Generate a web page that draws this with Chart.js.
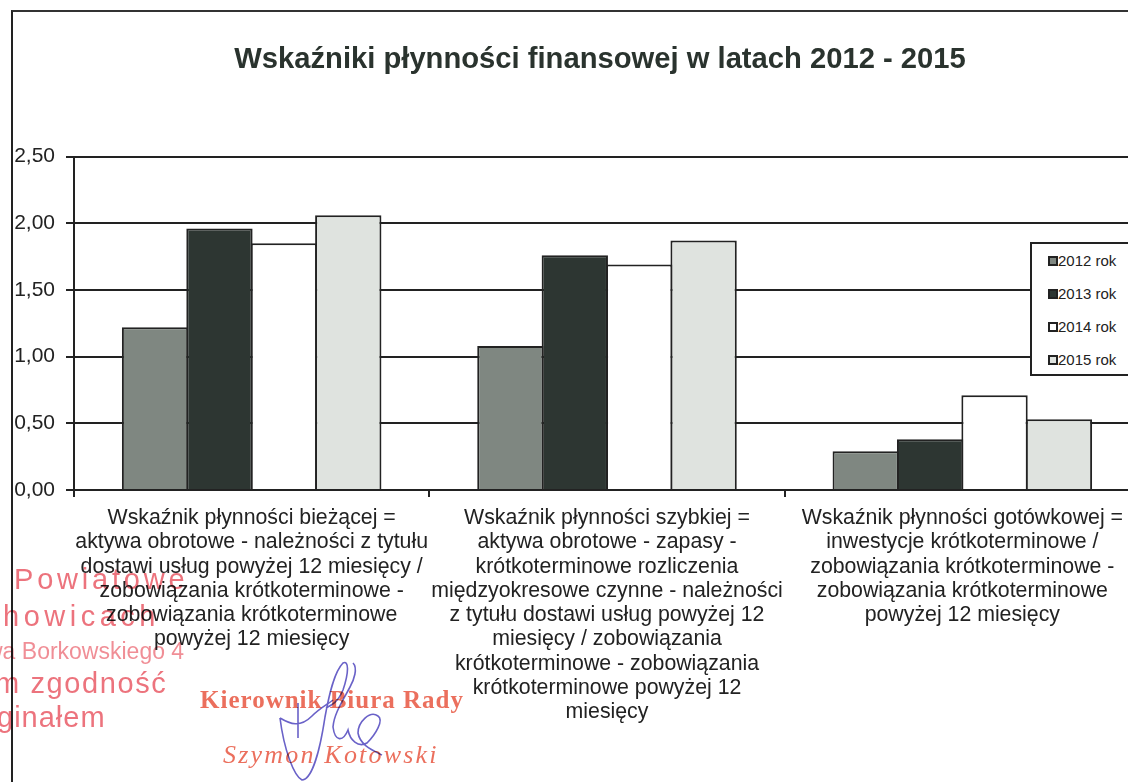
<!DOCTYPE html>
<html lang="pl">
<head>
<meta charset="utf-8">
<title>Wskaźniki płynności finansowej</title>
<script src="https://cdn.jsdelivr.net/npm/chart.js@4"></script>
<style>
  html, body { margin: 0; padding: 0; background: #fff; }
  #page { position: relative; width: 1128px; height: 782px; overflow: hidden; background: #fff; }
  #wrap { position: absolute; left: 0; top: 0; width: 1200px; height: 782px; }
  #frame { position: absolute; left: 11px; top: 10px; width: 1200px; height: 900px; border-left: 2px solid #222; border-top: 2px solid #333; }
  #legend {
    position: absolute; left: 1030px; top: 242px; width: 110px; height: 134px;
    background: #fff; border: 2px solid #222; box-sizing: border-box;
    font: 15px "Liberation Sans", Arial, sans-serif; color: #222;
  }
  #legend div { height: 33px; line-height: 33px; padding-left: 16px; white-space: nowrap; }
  #legend i { display: inline-block; width: 6px; height: 6px; border: 2px solid #222; vertical-align: 0; }
  .stamp { position: absolute; white-space: nowrap; color: #e8505c; mix-blend-mode: multiply; opacity: .8; font-family: "Liberation Sans", Arial, sans-serif; }
  .sign { position: absolute; white-space: nowrap; color: #e8553f; mix-blend-mode: multiply; opacity: .85; font-family: "Liberation Serif", serif; font-weight: bold; }
  #signature { position: absolute; left: 0; top: 0; mix-blend-mode: multiply; }
</style>
</head>
<body>
<div id="page">
  <div id="wrap"><canvas id="chart" width="1200" height="782"></canvas></div>
  <div id="frame"></div>
  <div id="legend"></div>
  <span class="stamp" style="left:14px;top:563px;font-size:29px;letter-spacing:3.8px">Powiatowe</span>
  <span class="stamp" style="left:-16px;top:600px;font-size:29px;letter-spacing:4.5px">chowicach</span>
  <span class="stamp" style="left:-14px;top:638px;font-size:23px;opacity:.65">wa Borkowskiego 4</span>
  <span class="stamp" style="left:-5px;top:667px;font-size:29px;letter-spacing:1.6px">m zgodność</span>
  <span class="stamp" style="left:-3px;top:701px;font-size:29px;letter-spacing:1px">ginałem</span>
  <span class="sign" style="left:200px;top:686px;font-size:25px;letter-spacing:1px">Kierownik Biura Rady</span>
  <span class="sign" style="left:223px;top:740px;font-size:26px;font-style:italic;font-weight:normal;letter-spacing:2.2px">Szymon Kotowski</span>
  <svg id="signature" width="1128" height="782" viewBox="0 0 1128 782" fill="none" stroke="#6a62c8" stroke-width="1.6">
    <path d="M280 718 C284 750 294 776 302 780 C312 780 320 750 325 717 C329 695 334 672 343 663 C349 660 349 672 343 690 C338 702 332 705 326 708"/>
    <path d="M280 718 C290 724 300 728 312 716 C320 708 328 704 333 700 M298 703 L298 738"/>
    <path d="M353 663 C358 668 354 680 350 687 C342 702 334 714 333 727 C335 742 343 742 348 730 C350 740 358 748 367 743 C376 734 384 720 378 716 C370 710 358 722 358 733 C360 745 372 750 382 755"/>
  </svg>
</div>
<script>
const categories = [
  ['Wskaźnik płynności bieżącej =', 'aktywa obrotowe - należności z tytułu', 'dostawi usług powyżej 12 miesięcy /', 'zobowiązania krótkoterminowe -', 'zobowiązania krótkoterminowe', 'powyżej 12 miesięcy'],
  ['Wskaźnik płynności szybkiej =', 'aktywa obrotowe - zapasy -', 'krótkoterminowe rozliczenia', 'międzyokresowe czynne - należności', 'z tytułu dostawi usług powyżej 12', 'miesięcy / zobowiązania', 'krótkoterminowe - zobowiązania', 'krótkoterminowe powyżej 12', 'miesięcy'],
  ['Wskaźnik płynności gotówkowej =', 'inwestycje krótkoterminowe /', 'zobowiązania krótkoterminowe -', 'zobowiązania krótkoterminowe', 'powyżej 12 miesięcy']
];
const values2012 = [1.22, 1.08, 0.29];
const values2013 = [1.96, 1.76, 0.38];
const values2014 = [1.85, 1.69, 0.71];
const values2015 = [2.06, 1.87, 0.53];
const seriesNames = ['2012 rok', '2013 rok', '2014 rok', '2015 rok'];
const seriesColors = ['#7f8781', '#2d3632', '#ffffff', '#dfe3df'];
const titleText = 'Wskaźniki płynności finansowej w latach 2012 - 2015';

const ink = '#222';
const allValues = [values2012, values2013, values2014, values2015];

// tytuł ma być na środku całego płótna, nie obszaru z paddingiem
const centerTitle = {
  id: 'centerTitle',
  afterLayout(c) {
    c.titleBlock.left = 0;
    c.titleBlock.right = c.width;
  },
};

const chart = new Chart(document.getElementById('chart'), {
  type: 'bar',
  plugins: [centerTitle],
  data: {
    labels: categories,
    datasets: allValues.map((data, i) => ({
      label: seriesNames[i],
      data,
      backgroundColor: seriesColors[i],
      borderColor: ink,
      borderWidth: 2,
      categoryPercentage: 0.725,
      barPercentage: 1.03,
    })),
  },
  options: {
    responsive: false,
    animation: false,
    layout: { padding: { left: 0, right: 60, top: 0, bottom: 0 } },
    plugins: {
      legend: { display: false },
      tooltip: { enabled: false },
      title: {
        display: true,
        text: titleText,
        color: '#2a332e',
        font: { family: '"Liberation Sans", Arial, sans-serif', size: 29.2, weight: 'bold' },
        padding: { top: 42, bottom: 79.5 },
      },
    },
    scales: {
      x: {
        afterFit: scale => { scale.height = 292; },
        grid: { offset: true, drawOnChartArea: false, color: ink, lineWidth: 2, tickLength: 7 },
        border: { color: ink, width: 2 },
        ticks: {
          color: '#222',
          autoSkip: false,
          maxRotation: 0,
          padding: 9,
          font: { family: '"Liberation Sans", Arial, sans-serif', size: 21.3, lineHeight: 1.14 },
        },
      },
      y: {
        min: 0,
        max: 2.5,
        afterFit: scale => { scale.width = 74; },
        grid: { color: ink, lineWidth: 2, tickLength: 8 },
        border: { color: ink, width: 2 },
        ticks: {
          stepSize: 0.5,
          color: '#222',
          padding: 11,
          font: { family: '"Liberation Sans", Arial, sans-serif', size: 21 },
          callback: v => v.toFixed(2).replace('.', ','),
        },
      },
    },
  },
});

// legenda w ramce nad wykresem
const legendBox = document.getElementById('legend');
chart.data.datasets.forEach(ds => {
  const row = document.createElement('div');
  const swatch = document.createElement('i');
  swatch.style.background = ds.backgroundColor;
  row.appendChild(swatch);
  row.appendChild(document.createTextNode(ds.label));
  legendBox.appendChild(row);
});
</script>
</body>
</html>
